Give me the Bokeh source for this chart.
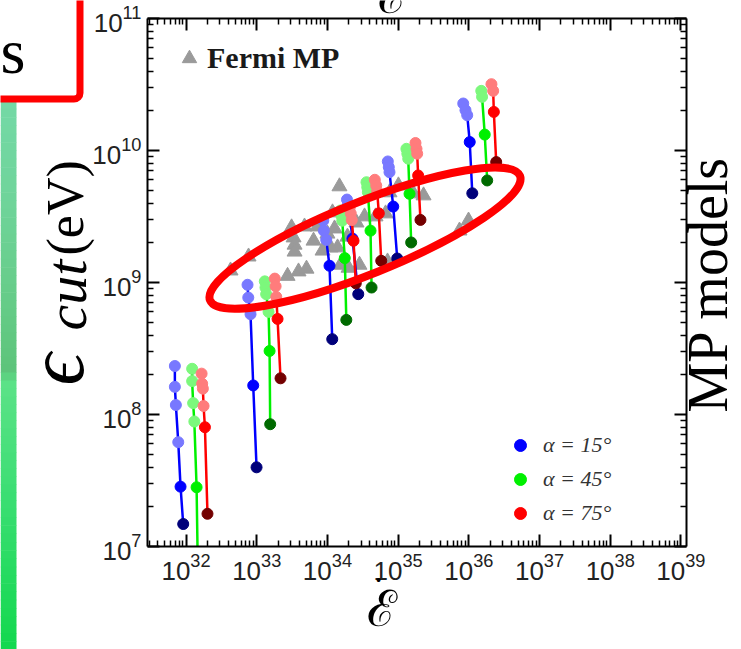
import math
from bokeh.plotting import figure
from bokeh.models import (LogAxis, FixedTicker, Label, BoxAnnotation, ColumnDataSource,
                          Legend, LegendItem, Range1d, CustomJSTickFormatter)
from bokeh.embed import file_html
from bokeh.resources import INLINE

# ---------------- data ----------------
X_MIN, X_MAX = 2.85e31, 1.2e39          # axis limits of the panel
Y_MIN, Y_MAX = 1e7, 1e11

X_MAJOR = [1e32, 1e33, 1e34, 1e35, 1e36, 1e37, 1e38, 1e39]
Y_MAJOR = [1e7, 1e8, 1e9, 1e10, 1e11]
X_MINOR = [m * 10.0 ** e for e in range(31, 40) for m in range(2, 10)
           if X_MIN <= m * 10.0 ** e <= X_MAX]
Y_MINOR = [m * 10.0 ** e for e in range(6, 11) for m in range(2, 10)
           if Y_MIN <= m * 10.0 ** e <= Y_MAX]

FERMI_X = [4.26e32, 7.66e32, 2.73e33, 3.90e33, 5.06e33, 3.11e33, 4.74e33, 7.24e33, 3.32e33,
           3.43e33, 3.43e33, 6.36e33, 8.53e33, 1.48e34, 1.18e34, 1.26e34, 1.39e34, 1.53e34,
           1.99e34, 2.84e34, 1.92e34, 3.35e34, 4.79e34, 6.64e34, 7.55e34, 1.01e35, 1.65e35,
           2.29e35, 7.08e34, 7.38e35, 9.91e35, 1.00e34, 1.11e34, 2.58e34]
FERMI_Y = [1.23e9, 1.57e9, 1.12e9, 1.21e9, 1.27e9, 2.61e9, 2.65e9, 2.65e9, 2.19e9,
           1.93e9, 1.71e9, 2.07e9, 1.74e9, 5.34e9, 3.39e9, 2.56e9, 1.84e9, 1.36e9,
           1.29e9, 1.36e9, 2.22e9, 3.16e9, 3.16e9, 3.33e9, 4.81e9, 5.43e9, 4.72e9,
           4.56e9, 1.44e9, 2.47e9, 2.94e9, 2.34e9, 1.84e9, 2.84e9]

BLUE_X = [
    [6.95e31, 6.95e31, 7.18e31, 7.76e31, 8.36e31, 9.12e31],
    [7.41e32, 7.59e32, 8.17e32, 8.92e32, 9.94e32],
    [8.73e33, 8.89e33, 9.62e33, 1.07e34, 1.17e34],
    [1.89e34, 1.95e34, 2.05e34, 2.26e34, 2.73e34],
    [7.15e34, 7.38e34, 7.55e34, 8.53e34, 9.71e34],
    [8.34e35, 8.97e35, 9.49e35, 1.03e36, 1.12e36],
]
BLUE_Y = [
    [2.33e8, 1.62e8, 1.18e8, 6.17e7, 2.84e7, 1.48e7],
    [9.61e8, 7.69e8, 5.75e8, 1.66e8, 3.98e7],
    [2.94e9, 2.47e9, 2.10e9, 1.34e9, 3.72e8],
    [4.25e9, 3.89e9, 3.39e9, 2.15e9, 8.16e8],
    [8.26e9, 7.48e9, 6.85e9, 3.76e9, 1.52e9],
    [2.27e10, 2.02e10, 1.85e10, 1.16e10, 4.74e9],
]
GREEN_X = [
    [1.22e32, 1.22e32, 1.26e32, 1.31e32, 1.41e32, 1.48e32],
    [1.30e33, 1.33e33, 1.36e33, 1.47e33, 1.52e33, 1.55e33],
    [1.53e34, 1.58e34, 1.62e34, 1.76e34, 1.85e34],
    [3.57e34, 3.66e34, 3.73e34, 4.07e34, 4.21e34],
    [1.31e35, 1.35e35, 1.39e35, 1.45e35, 1.53e35],
    [1.50e36, 1.54e36, 1.68e36, 1.82e36],
]
GREEN_Y = [
    [2.22e8, 1.79e8, 1.22e8, 8.85e7, 2.81e7, 5.0e6],
    [1.02e9, 9.16e8, 8.16e8, 5.99e8, 3.03e8, 8.44e7],
    [3.51e9, 3.21e9, 2.94e9, 1.53e9, 5.21e8],
    [5.75e9, 5.27e9, 4.83e9, 2.47e9, 9.16e8],
    [1.03e10, 9.46e9, 8.67e9, 4.70e9, 2.01e9],
    [2.83e10, 2.55e10, 1.32e10, 5.93e9],
]
RED_X = [
    [1.66e32, 1.69e32, 1.73e32, 1.77e32, 1.85e32, 2.01e32],
    [1.80e33, 1.85e33, 1.89e33, 1.97e33, 2.17e33],
    [2.07e34, 2.14e34, 2.21e34, 2.34e34, 2.52e34],
    [4.68e34, 4.90e34, 5.06e34, 5.33e34, 5.77e34],
    [1.76e35, 1.82e35, 1.86e35, 1.92e35, 2.07e35],
    [2.09e36, 2.21e36, 2.26e36, 2.44e36],
]
RED_Y = [
    [2.04e8, 1.71e8, 1.57e8, 1.16e8, 8.01e7, 1.77e7],
    [1.07e9, 9.36e8, 7.78e8, 5.30e8, 1.88e8],
    [3.70e9, 3.33e9, 2.97e9, 2.07e9, 9.86e8],
    [6.00e9, 5.43e9, 4.91e9, 3.34e9, 1.46e9],
    [1.14e10, 1.03e10, 9.46e9, 6.47e9, 2.98e9],
    [3.18e10, 2.83e10, 1.96e10, 8.17e9],
]
LEGEND_LABELS = ["\u03b1 = 15\u00b0", "\u03b1 = 45\u00b0", "\u03b1 = 75\u00b0"]

# highlight ellipse (centre in data units)
ELLIPSE_X, ELLIPSE_Y = 3.40e34, 2.17e9

# ---------------- layout (pixels) ----------------
W, H = 741, 649
PX_LEFT, PX_RIGHT, PX_TOP, PX_BOTTOM = 147, 686, 18, 546   # panel box on the canvas

lx0, lx1 = math.log10(X_MIN), math.log10(X_MAX)
ly0, ly1 = math.log10(Y_MIN), math.log10(Y_MAX)
ppd_x = (PX_RIGHT - PX_LEFT) / (lx1 - lx0)
ppd_y = (PX_BOTTOM - PX_TOP) / (ly1 - ly0)
X_LO = 10 ** (lx0 - PX_LEFT / ppd_x)
X_HI = 10 ** (lx1 + (W - PX_RIGHT) / ppd_x)
Y_LO = 10 ** (ly0 - (H - PX_BOTTOM) / ppd_y)
Y_HI = 10 ** (ly1 + PX_TOP / ppd_y)

p = figure(width=W, height=H, x_axis_type="log", y_axis_type="log",
           x_range=Range1d(X_LO, X_HI), y_range=Range1d(Y_LO, Y_HI),
           output_backend="svg", toolbar_location=None,
           min_border_left=0, min_border_right=0, min_border_top=0, min_border_bottom=0)
p.xgrid.visible = False
p.ygrid.visible = False
p.outline_line_color = None
p.background_fill_color = "white"
p.border_fill_color = "white"


def style_axis(ax, major, minor, loc, bounds, labels=True):
    ax.ticker = FixedTicker(ticks=major, minor_ticks=minor)
    ax.fixed_location = loc
    ax.bounds = bounds
    ax.axis_line_width = 2
    ax.axis_line_color = "black"
    ax.major_tick_in = 12
    ax.major_tick_out = 0
    ax.minor_tick_in = 6
    ax.minor_tick_out = 0
    ax.major_tick_line_width = 2
    ax.minor_tick_line_width = 1.5
    ax.major_label_text_font = "Liberation Sans"
    ax.major_label_text_color = "#222222"
    if labels:
        ax.major_label_text_font_size = "26px"
        ax.major_label_standoff = 6
    else:
        ax.formatter = CustomJSTickFormatter(code="return ''")
        ax.major_label_text_font_size = "1px"
        ax.major_label_standoff = 0


style_axis(p.xaxis[0], X_MAJOR, X_MINOR, Y_MIN, (X_MIN, X_MAX))
style_axis(p.yaxis[0], Y_MAJOR, Y_MINOR, X_MIN, (Y_MIN, Y_MAX))
top_ax = LogAxis()
right_ax = LogAxis()
style_axis(top_ax, X_MAJOR, X_MINOR, Y_MAX, (X_MIN, X_MAX), labels=False)
style_axis(right_ax, Y_MAJOR, Y_MINOR, X_MAX, (Y_MIN, Y_MAX), labels=False)
p.add_layout(top_ax, "above")
p.add_layout(right_ax, "right")

# Fermi triangles
r_tri = p.scatter(FERMI_X, FERMI_Y, marker="triangle", size=15,
                  fill_color="#9a9a9a", line_color="#9a9a9a")


def clip_chain(cx, cy):
    """keep the part of a chain that lies inside the panel (cut at Y_MIN)"""
    ox, oy = [], []
    for i in range(len(cx)):
        if cy[i] >= Y_MIN:
            ox.append(cx[i])
            oy.append(cy[i])
        elif i > 0 and cy[i - 1] >= Y_MIN:
            a, b = math.log10(cy[i - 1]), math.log10(cy[i])
            t = (ly0 - a) / (b - a)
            xa, xb = math.log10(cx[i - 1]), math.log10(cx[i])
            ox.append(10 ** (xa + t * (xb - xa)))
            oy.append(Y_MIN)
    return ox, oy


FAMILIES = [
    (BLUE_X, BLUE_Y, "#7878ff", "#0000ff", "#00007a"),
    (GREEN_X, GREEN_Y, "#7cf87c", "#00f000", "#006a00"),
    (RED_X, RED_Y, "#ff7c7c", "#ff0000", "#740000"),
]
fam_renderers = []
for xs, ys, light, pure, dark in FAMILIES:
    clipped = [clip_chain(cx, cy) for cx, cy in zip(xs, ys)]
    p.multi_line(xs=[c[0] for c in clipped], ys=[c[1] for c in clipped],
                 line_color=pure, line_width=2.5)
    fx, fy, fc = [], [], []
    pure_index = None
    for cx, cy in zip(xs, ys):
        n = len(cx)
        for i in range(n):
            if cy[i] < Y_MIN:
                continue
            if i == n - 1:
                col = dark
            elif i == n - 2:
                col = pure
                if pure_index is None:
                    pure_index = len(fc)
            else:
                col = light
            fx.append(cx[i])
            fy.append(cy[i])
            fc.append(col)
    src = ColumnDataSource(dict(x=fx, y=fy, c=fc))
    r = p.scatter("x", "y", source=src, size=11, fill_color="c", line_color="c")
    fam_renderers.append((r, pure_index))

# red ellipse highlight
p.ellipse(x=[ELLIPSE_X], y=[ELLIPSE_Y], width=334, height=72, angle=0.382,
          width_units="screen", height_units="screen",
          fill_color=None, line_color="#ff0000", line_width=8)

# legends (location: pixels from canvas bottom-left)
leg1 = Legend(items=[LegendItem(label="Fermi MP", renderers=[r_tri])],
              location=(171, H - 79), glyph_width=36, glyph_height=42, label_standoff=0,
              padding=0, margin=0, border_line_color=None, background_fill_alpha=0,
              label_text_font="Liberation Serif", label_text_font_style="bold",
              label_text_font_size="30px", label_text_color="#1a1a1a")
p.add_layout(leg1)

leg2 = Legend(items=[LegendItem(label=lab, renderers=[r], index=idx)
                     for lab, (r, idx) in zip(LEGEND_LABELS, fam_renderers)],
              location=(505, H - 528), glyph_width=30, glyph_height=30, spacing=4,
              label_standoff=8, padding=0, margin=0, border_line_color=None,
              background_fill_alpha=0, label_text_font="Liberation Serif",
              label_text_font_style="italic",
              label_text_font_size="22px", label_text_color="#333333")
p.add_layout(leg2)

BASE_SHIFT = 0.33   # observed offset of the rendered baseline, in em


def add_label(text, cx, cy, size, font="Liberation Serif", style="normal", angle=0.0,
              align="left", color="black"):
    """cx, cy: canvas pixels (top-left origin) of the desired text baseline start"""
    if angle:
        cx -= BASE_SHIFT * size
    else:
        cy -= BASE_SHIFT * size
    p.add_layout(Label(x=cx, y=H - cy, x_units="screen", y_units="screen", text=text,
                       text_font=font, text_font_size=f"{size}px", text_font_style=style,
                       angle=angle, text_align=align, text_baseline="alphabetic",
                       text_color=color))


def add_box(left, right, top, bottom, **kw):
    """canvas pixels from the top-left corner"""
    p.add_layout(BoxAnnotation(left=left, right=right, top=H - top, bottom=H - bottom,
                               left_units="screen", right_units="screen",
                               bottom_units="screen", top_units="screen", **kw))


# y-axis label  (epsilon_cut (eV))
add_label("\u03f5", 82, 385, 80, style="italic", angle=math.pi / 2)
add_label("cut", 85, 330, 58, style="italic", angle=math.pi / 2)
add_label("(eV)", 82, 255, 52, angle=math.pi / 2)
# x-axis label
add_label("\u2130", 381, 625, 50, font="DejaVu Serif", align="center")
add_label("\u2022", 378, 585, 16, align="center")
# right-side text
add_label("MP models", 726, 412, 56, angle=math.pi / 2)
# fragments of neighbouring panels
add_label("\u2130", 392, 12, 50, font="DejaVu Serif", align="center")
add_label("s", 0, 72, 64)

# red frame of neighbouring panel
add_box(-200, 79.5, -200, 98.5, fill_alpha=0, fill_color=None, line_color="#ff0000",
        line_alpha=1, line_width=7, border_radius=6)

# green colour strip of neighbouring panel
STRIP_STOPS = [(100, (116, 217, 166)), (200, (111, 212, 154)), (300, (102, 204, 136)),
               (372, (92, 196, 122)), (380, (92, 226, 136)), (500, (58, 222, 114)),
               (649, (18, 216, 78))]
for k in range(len(STRIP_STOPS) - 1):
    (y0, c0), (y1, c1) = STRIP_STOPS[k], STRIP_STOPS[k + 1]
    nb = max(1, int((y1 - y0) / 8))
    for j in range(nb):
        t = (j + 0.5) / nb
        col = "#%02x%02x%02x" % tuple(int(round(a + (b - a) * t)) for a, b in zip(c0, c1))
        ya = y0 + (y1 - y0) * j / nb
        yb = y0 + (y1 - y0) * (j + 1) / nb
        add_box(0, 16, ya, yb + 0.5, fill_color=col, fill_alpha=1, line_alpha=0,
                level="underlay")

open("out.html", "w").write(file_html(p, INLINE))
